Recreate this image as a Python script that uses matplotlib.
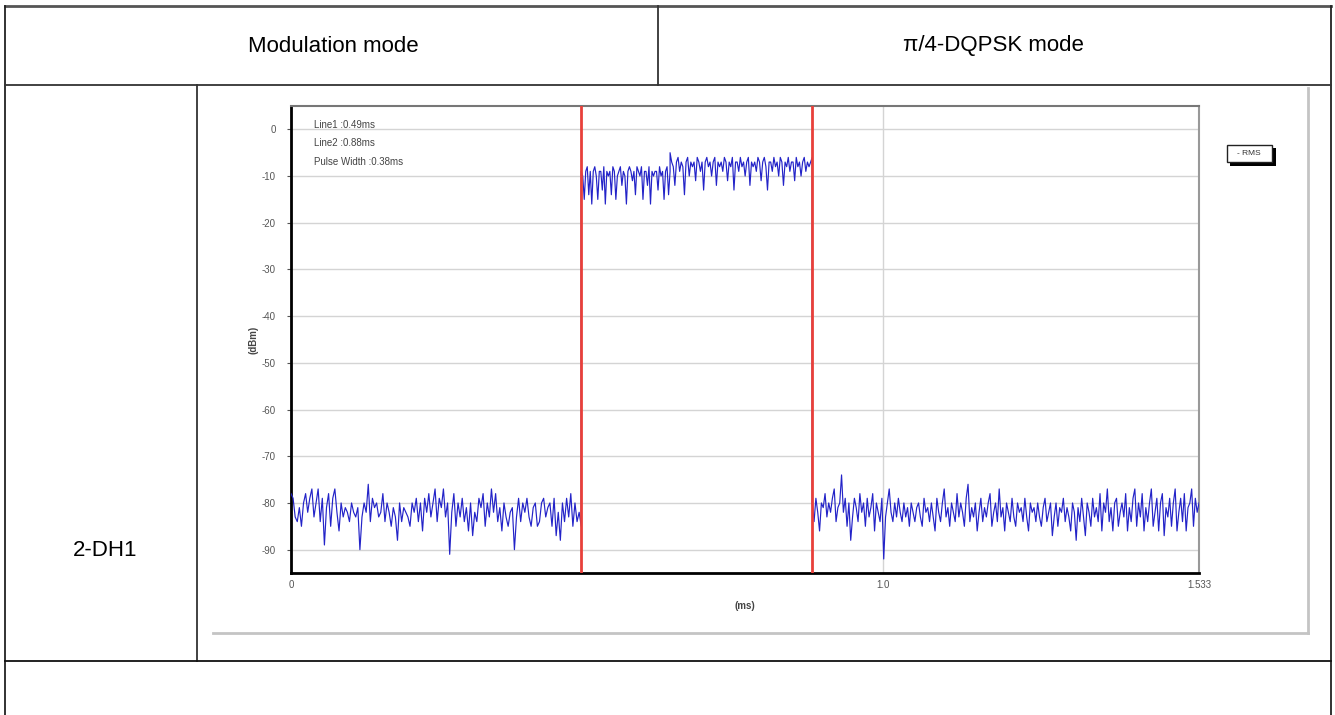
import numpy as np
import matplotlib
matplotlib.use("Agg")
import matplotlib.pyplot as plt
from matplotlib.lines import Line2D
from matplotlib.patches import Rectangle

plt.rcParams['font.family'] = ['Liberation Sans', 'DejaVu Sans']
plt.rcParams['axes.unicode_minus'] = False

# table text
header_left = "Modulation mode"
header_right = "π/4-DQPSK mode"
row_label = "2-DH1"

# markers (ms)
line1 = 0.49
line2 = 0.88
pulse_width = 0.38
x_end = 1.533

# RMS trace (dBm), hand
noise_left = [-78, -79, -83, -84, -81, -85, -80, -78, -82, -79, -77, -83, -80, -77, -84, -79, -89, -81,
              -78, -85, -79, -77, -82, -86, -80, -83, -81, -82, -84, -80, -82, -83, -81, -90, -83, -80,
              -82, -76, -84, -79, -81, -80, -83, -82, -78, -84, -80, -82, -85, -81, -83, -88, -80, -84,
              -81, -82, -83, -85, -80, -82, -79, -84, -80, -86, -79, -82, -78, -83, -80, -77, -84, -79,
              -81, -77, -83, -80, -91, -82, -78, -85, -80, -83, -79, -84, -81, -86, -80, -87, -82, -84,
              -79, -81, -78, -85, -80, -83, -77, -82, -78, -84, -81, -86, -80, -83, -85, -82, -81, -90,
              -83, -79, -84, -80, -82, -79, -83, -85, -81, -80, -85, -84, -80, -79, -83, -81, -80, -85,
              -79, -87, -82, -88, -80, -84, -79, -83, -78, -85, -80, -84, -82, -85]
burst_first = [-9, -10, -15, -9, -8, -14, -9, -16, -9, -8, -10, -15, -9, -9, -13, -8, -16, -9, -10, -9,
               -14, -8, -9, -15, -10, -9, -8, -12, -9, -10, -16, -9, -8, -9, -11, -9, -14, -8, -9, -10,
               -8, -15, -9, -9, -12, -8, -16, -9, -10, -9, -9, -13, -8, -10, -9, -15, -9, -8, -14, -9]
burst_second = [-5, -7, -8, -12, -7, -6, -9, -7, -8, -14, -7, -6, -10, -7, -8, -7, -11, -6, -7, -9,
                -7, -13, -7, -6, -8, -7, -10, -7, -6, -12, -7, -8, -7, -9, -6, -7, -11, -7, -8, -6,
                -13, -7, -7, -9, -6, -8, -7, -10, -7, -6, -12, -7, -8, -7, -9, -6, -7, -11, -7, -6,
                -8, -13, -7, -7, -9, -6, -8, -7, -10, -6, -7, -12, -7, -8, -6, -9, -7, -7, -11, -6,
                -8, -7, -10, -7, -6, -9, -7, -8, -7, -6]
noise_right = [-80, -84, -79, -82, -86, -80, -81, -78, -83, -80, -82, -79, -77, -84, -81, -80, -74, -82,
               -79, -85, -80, -88, -83, -79, -81, -84, -78, -82, -80, -85, -79, -83, -81, -78, -86, -80,
               -82, -84, -79, -92, -83, -80, -77, -82, -84, -80, -83, -79, -82, -84, -80, -83, -81, -85,
               -80, -82, -84, -81, -80, -83, -85, -79, -82, -81, -84, -80, -83, -86, -79, -82, -84, -80,
               -77, -83, -81, -85, -80, -82, -84, -78, -83, -80, -82, -85, -79, -76, -84, -81, -83, -80,
               -86, -82, -79, -84, -81, -83, -80, -78, -85, -82, -80, -84, -77, -83, -81, -86, -80, -82,
               -84, -79, -83, -85, -80, -82, -81, -84, -79, -83, -86, -80, -82, -81, -84, -80, -83, -85,
               -81, -79, -84, -82, -80, -87, -83, -80, -85, -81, -82, -79, -84, -81, -83, -86, -80, -82,
               -88, -81, -84, -79, -83, -87, -80, -82, -85, -79, -83, -81, -84, -78, -86, -80, -82, -77,
               -84, -81, -86, -80, -79, -85, -82, -80, -83, -78, -86, -81, -84, -79, -77, -85, -80, -83,
               -78, -86, -81, -84, -80, -77, -85, -82, -79, -86, -80, -78, -87, -81, -83, -79, -85, -80,
               -77, -86, -82, -79, -84, -78, -86, -81, -80, -77, -85, -79, -82, -80]
burst_split = 0.64

y_ticks = [0, -10, -20, -30, -40, -50, -60, -70, -80, -90]
x_ticks = [0, 1.0, x_end]
x_tick_labels = ["0", "1.0", "1.533"]

W, H = 1335, 715
fig = plt.figure(figsize=(W / 100, H / 100), dpi=100)


def fx(px):
    return px / W


def fy(py):
    return 1 - py / H


def hline(y, x0, x1, c="#333333", lw=1.3):
    fig.add_artist(Line2D([fx(x0), fx(x1)], [fy(y), fy(y)], color=c, lw=lw))


def vline(x, y0, y1, c="#333333", lw=1.3):
    fig.add_artist(Line2D([fx(x), fx(x)], [fy(y0), fy(y1)], color=c, lw=lw))


# table grid
hline(6, 5, 1331, c="#555555", lw=2)
vline(5, 6, 715, c="#222222")
vline(1331, 6, 715, c="#222222")
hline(85, 5, 1331)
vline(658, 6, 85)
vline(197, 85, 661)
hline(661, 5, 1331, c="#111111")

fig.text(fx(333), fy(46), header_left, ha="center", va="center", fontsize=16)
fig.text(fx(993), fy(46), header_right, ha="center", va="center", fontsize=16)
fig.text(fx(105), fy(550), row_label, ha="center", va="center", fontsize=16)

# screenshot frame of the embedded chart
hline(633, 213, 1308, c="#c4c4c4", lw=2)
vline(1308, 88, 633, c="#c4c4c4", lw=2)

ax = fig.add_axes([fx(291), fy(573), fx(1199) - fx(291), fy(106) - fy(573)])

t_left = np.linspace(0, line1, len(noise_left))
t_b1 = np.linspace(line1, burst_split, len(burst_first))
t_b2 = np.linspace(burst_split, line2, len(burst_second))
t_right = np.linspace(line2, x_end, len(noise_right))
t = np.concatenate([t_left, t_b1, t_b2, t_right])
v = np.concatenate([noise_left, burst_first, burst_second, noise_right])

ax.plot(t, v, color="#2323c8", lw=0.85, zorder=3)
ax.axvline(line1, color="#e8403a", lw=2, zorder=4)
ax.axvline(line2, color="#e8403a", lw=2, zorder=4)

ax.set_xlim(0, x_end)
ax.set_ylim(-95, 5)
ax.set_yticks(y_ticks)
ax.set_xticks(x_ticks)
ax.set_xticklabels(x_tick_labels)
ax.tick_params(axis="both", labelsize=7, colors="#555555", length=3, width=0.8)
ax.tick_params(axis="y", pad=8)
ax.tick_params(axis="x", length=0, pad=5)
ax.grid(True, color="#d4d4d4", lw=1)
ax.set_axisbelow(True)

ax.spines["left"].set_color("black")
ax.spines["left"].set_linewidth(2)
ax.spines["bottom"].set_color("black")
ax.spines["bottom"].set_linewidth(2)
ax.spines["top"].set_color("#777777")
ax.spines["top"].set_linewidth(1.5)
ax.spines["right"].set_color("#999999")
ax.spines["right"].set_linewidth(1.5)

ax.set_xlabel("(ms)", fontsize=7, fontweight="bold", color="#444444", labelpad=8)
ax.set_ylabel("(dBm)", fontsize=7, fontweight="bold", color="#444444", labelpad=2)

info = [f"Line1 :{line1:.2f}ms", f"Line2 :{line2:.2f}ms", f"Pulse Width :{pulse_width:.2f}ms"]
for i, s in enumerate(info):
    fig.text(fx(314), fy(125 + 18.5 * i), s, ha="left", va="center", fontsize=7, color="#444444")

# RMS legend box with shadow
fig.add_artist(Rectangle((fx(1230), fy(166)), fx(46), fy(148) - fy(166), transform=fig.transFigure,
                         facecolor="black", edgecolor="none"))
fig.add_artist(Rectangle((fx(1227), fy(162)), fx(45), fy(145) - fy(162), transform=fig.transFigure,
                         facecolor="white", edgecolor="#222222", lw=1))
fig.text(fx(1249), fy(153.5), "- RMS", ha="center", va="center", fontsize=6, color="#333333")

fig.savefig("out.png", dpi=100)
